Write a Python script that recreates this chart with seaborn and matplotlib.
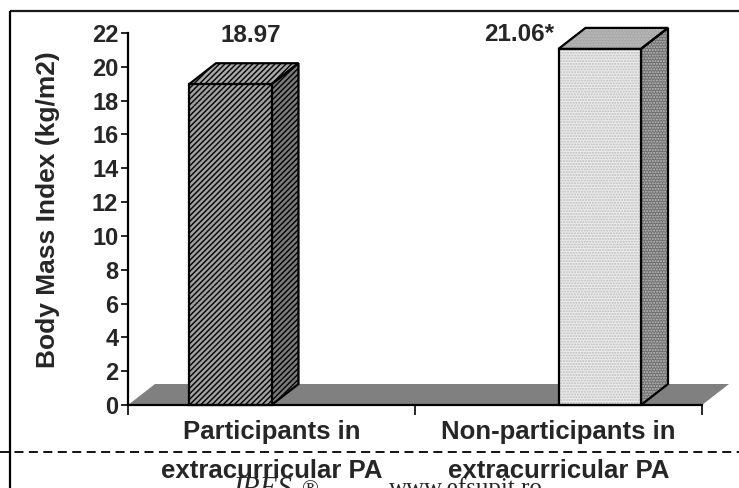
import matplotlib
matplotlib.use("Agg")
import matplotlib.pyplot as plt
from matplotlib.patches import Polygon
import pandas as pd
import seaborn as sns

# ---- data ----
categories = ["Participants in\nextracurricular PA", "Non-participants in\nextracurricular PA"]
bmi_values = [18.97, 21.06]
value_labels = ["18.97", "21.06*"]
y_ticks = list(range(0, 23, 2))
y_label = "Body Mass Index (kg/m2)"

# ---- style ----
sns.set_style("white")
plt.rcParams["font.family"] = ["Liberation Sans", "DejaVu Sans"]
plt.rcParams["hatch.linewidth"] = 1.0

W, H = 739, 488
fig = plt.figure(figsize=(W / 100, H / 100), dpi=100)

# page layer in pixel units (frame, separator, footer)
page = fig.add_axes([0, 0, 1, 1], zorder=0)
page.set_xlim(0, W)
page.set_ylim(H, 0)
page.axis("off")
page.plot([10, W], [11, 11], color="#1a1a1a", lw=1.6, solid_capstyle="butt")
page.plot([10, 10], [11, H], color="black", lw=1.6, solid_capstyle="butt")
page.plot([0, W], [452, 452], color="black", lw=1.3, dashes=(5, 3))
page.text(230, 496, "JPES", family=["Liberation Serif"], style="italic",
          fontsize=21, ha="left", va="baseline")
page.text(302, 495, "\u00ae", family=["Liberation Serif"], fontsize=16,
          ha="left", va="baseline")
page.text(466, 495, "www.efsupit.ro", family=["Liberation Serif"], fontsize=18,
          ha="center", va="baseline")

# plot area: value axis at x=128, zero line at y=405, top (22) at y=33
ax_l, ax_r, ax_b, ax_t = 128, 702, 405, 33
ax = fig.add_axes([ax_l / W, (H - ax_b) / H, (ax_r - ax_l) / W, (ax_b - ax_t) / H], zorder=1)
ax.patch.set_alpha(0)

df = pd.DataFrame({"group": categories, "bmi": bmi_values})
sns.barplot(data=df, x="group", y="bmi", hue="group", order=categories,
            hue_order=categories, dodge=True, width=0.575, saturation=1,
            legend=False, ax=ax, zorder=3)

ax.set_xlim(-0.5, 1.5)
ax.set_ylim(0, 22)

# depth offset of the 3-D boxes, in pixels, converted to data units
DX, DY = 27, 21
p0 = ax.transData.transform((0, 0))
p1 = ax.transData.transform((1, 1))
ux = DX / (p1[0] - p0[0])
uy = DY / (p1[1] - p0[1])

# grey floor
floor = Polygon([(-0.5, 0), (1.5, 0), (1.5 + ux, uy), (-0.5 + ux, uy)],
                closed=True, facecolor="#808080", edgecolor="none",
                zorder=1, clip_on=False)
ax.add_patch(floor)

styles = [
    dict(front="#a0a0a0", top="#a8a8a8", side="#7a7a7a", hatch="//////", hcolor="black"),
    dict(front="#ececec", top="#a8a8a8", side="#6e6e6e", hatch="......", hcolor="#bdbdbd"),
]

label_offsets = [(21, 49), (-81, 14)]

bars = [p for p in ax.patches if p is not floor and p.get_height() > 0]
bars.sort(key=lambda p: p.get_x())
for bar, st, lab, off in zip(bars, styles, value_labels, label_offsets):
    x0 = bar.get_x()
    w = bar.get_width()
    h = bar.get_height()
    x1 = x0 + w
    bar.set_facecolor(st["front"])
    bar.set_edgecolor("none")
    bar.set_linewidth(0)
    # pattern layer on the front face
    front_hatch = Polygon([(x0, 0), (x1, 0), (x1, h), (x0, h)], closed=True,
                          facecolor="none", edgecolor=st["hcolor"], lw=0,
                          hatch=st["hatch"], zorder=3.1)
    ax.add_patch(front_hatch)
    top = [(x0, h), (x1, h), (x1 + ux, h + uy), (x0 + ux, h + uy)]
    side = [(x1, 0), (x1 + ux, uy), (x1 + ux, h + uy), (x1, h)]
    for pts, fc in ((top, st["top"]), (side, st["side"])):
        ax.add_patch(Polygon(pts, closed=True, facecolor=fc, edgecolor="none",
                             zorder=2.5, clip_on=False))
        ax.add_patch(Polygon(pts, closed=True, facecolor="none",
                             edgecolor=st["hcolor"], lw=0, hatch=st["hatch"],
                             zorder=2.6, clip_on=False))
        ax.add_patch(Polygon(pts, closed=True, facecolor="none", edgecolor="black",
                             lw=1.6, joinstyle="miter", zorder=2.7, clip_on=False))
    ax.add_patch(Polygon([(x0, 0), (x1, 0), (x1, h), (x0, h)], closed=True,
                         facecolor="none", edgecolor="black", lw=1.6,
                         joinstyle="miter", zorder=3.2, clip_on=False))
    ax.annotate(lab, xy=(x0 + w / 2, h), xytext=off, textcoords="offset pixels",
                ha="center", va="center", fontsize=17.5, fontweight="bold",
                annotation_clip=False)

# axes
for s in ("top", "right"):
    ax.spines[s].set_visible(False)
for s in ("left", "bottom"):
    ax.spines[s].set_linewidth(1.6)
    ax.spines[s].set_color("black")
    ax.spines[s].set_zorder(4)

ax.set_yticks(y_ticks)
ax.set_yticklabels([str(t) for t in y_ticks], fontsize=17, fontweight="bold")
ax.tick_params(axis="y", direction="out", length=5, width=1.4, pad=2, left=True)
ax.set_xticks(range(len(categories)))
ax.set_xticklabels(categories, fontsize=18.5, fontweight="bold", linespacing=1.75)
ax.tick_params(axis="x", length=0, pad=11)
ax.set_xticks([-0.5, 0.5, 1.5], minor=True)
ax.tick_params(axis="x", which="minor", direction="out", length=7, width=1.4, bottom=True)
ax.set_xlabel("")
ax.set_ylabel(y_label, fontsize=19, fontweight="bold")
ax.yaxis.set_label_coords(-(ax_l - 60) / (ax_r - ax_l), 0.525)
ax.grid(False)

fig.savefig("out.png", dpi=100)
